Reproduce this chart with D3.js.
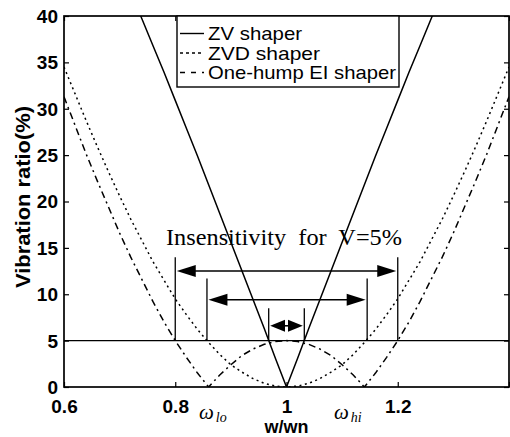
<!DOCTYPE html>
<html>
<head>
<meta charset="utf-8">
<script src="https://cdn.jsdelivr.net/npm/d3@7"></script>
<style>
  html, body { margin: 0; padding: 0; background: #fff; }
  svg { display: block; }
  .tick text { font-family: "Liberation Sans", Arial, sans-serif; font-size: 19px; font-weight: bold; fill: #000; }
</style>
</head>
<body>
<svg id="chart" width="510" height="437"></svg>
<script>
// Normalised frequency w/wn
const freq = [0.60,0.62,0.64,0.66,0.68,0.70,0.72,0.74,0.76,0.78,0.80,0.82,0.84,0.86,0.88,0.90,0.92,0.94,0.96,0.98,1.00,
              1.02,1.04,1.06,1.08,1.10,1.12,1.14,1.16,1.18,1.20,1.22,1.24,1.26,1.28,1.30,1.32,1.34,1.36,1.38,1.40];
// Residual vibration (%) of each shaper
const zvShaper  = [58.8,56.2,53.6,50.9,48.2,45.4,42.6,39.7,36.8,33.9,30.9,27.9,24.9,21.8,18.7,15.6,12.5,9.4,6.3,3.1,0,
                   3.1,6.3,9.4,12.5,15.6,18.7,21.8,24.9,27.9,30.9,33.9,36.8,39.7,42.6,45.4,48.2,50.9,53.6,56.2,58.8];
const zvdShaper = [34.5,31.6,28.7,25.9,23.2,20.6,18.1,15.8,13.5,11.5,9.5,7.8,6.2,4.8,3.5,2.4,1.6,0.9,0.4,0.1,0,
                   0.1,0.4,0.9,1.6,2.4,3.5,4.8,6.2,7.8,9.5,11.5,13.5,15.8,18.1,20.6,23.2,25.9,28.7,31.6,34.5];
const eiShaper  = [31.3,28.2,25.1,22.2,19.4,16.6,14.0,11.6,9.2,7.0,5.0,3.2,1.5,0.0,1.3,2.4,3.4,4.1,4.6,4.9,5.0,
                   4.9,4.6,4.1,3.4,2.4,1.3,0.0,1.5,3.2,5.0,7.0,9.2,11.6,14.0,16.6,19.4,22.2,25.1,28.2,31.3];
const seriesNames = ["ZV shaper", "ZVD shaper", "One-hump EI shaper"];

// Tolerable vibration level and the insensitivity ranges at that level (EI, ZVD, ZV)
const vTol = 5;
const bandLo    = [0.80, 0.857, 0.968];
const bandHi    = [1.20, 1.145, 1.032];
const arrowAt   = [12.5, 9.4, 6.6];
const markerTop = [14.0, 11.7, 8.5];

// Axis ticks
const xTicks = [0.6, 0.8, 1.0, 1.2, 1.4];
const xTickLabels = ["0.6", "0.8", "1", "1.2", ""];
const yTicks = [0, 5, 10, 15, 20, 25, 30, 35, 40];

const svg = d3.select("#chart");
const padL = 64, padR = 509, padT = 16, padB = 387;
const x = d3.scaleLinear().domain([0.6, 1.4]).range([padL, padR]);
const y = d3.scaleLinear().domain([0, 40]).range([padB, padT]);

svg.append("defs").append("clipPath").attr("id", "plotArea")
  .append("rect").attr("x", padL).attr("y", padT).attr("width", padR - padL).attr("height", padB - padT);

// Axes with inward ticks on all four sides
const tickLen = 5;
const gx = svg.append("g").attr("transform", `translate(0,${padB})`)
  .call(d3.axisBottom(x).tickValues(xTicks).tickFormat((d, i) => xTickLabels[i]).tickSizeInner(-tickLen).tickSizeOuter(0));
gx.selectAll("text").attr("dy", null).attr("y", 26);
const gxt = svg.append("g").attr("transform", `translate(0,${padT})`)
  .call(d3.axisTop(x).tickValues(xTicks).tickFormat("").tickSizeInner(-tickLen).tickSizeOuter(0));
const gy = svg.append("g").attr("transform", `translate(${padL},0)`)
  .call(d3.axisLeft(y).tickValues(yTicks).tickFormat(d3.format("d")).tickSizeInner(-tickLen).tickSizeOuter(0));
gy.selectAll("text").attr("x", -6).attr("dy", "0.34em");
const gyr = svg.append("g").attr("transform", `translate(${padR},0)`)
  .call(d3.axisRight(y).tickValues(yTicks).tickFormat("").tickSizeInner(-tickLen).tickSizeOuter(0));
[gx, gxt, gy, gyr].forEach(g => {
  g.select(".domain").remove();
  g.selectAll(".tick line").attr("stroke", "#000").attr("stroke-width", 1.2);
});

svg.append("rect").attr("x", padL).attr("y", padT).attr("width", padR - padL).attr("height", padB - padT)
  .attr("fill", "none").attr("stroke", "#000").attr("stroke-width", 1.7);

// Curves
const plot = svg.append("g").attr("clip-path", "url(#plotArea)");
const styles = [
  { data: zvShaper,  dash: null },
  { data: zvdShaper, dash: "2,3.5" },
  { data: eiShaper,  dash: "7,4,2,4" }
];
const line = d3.line().x(d => x(d[0])).y(d => y(d[1]));
styles.forEach(s => {
  plot.append("path")
    .attr("d", line(freq.map((f, i) => [f, s.data[i]])))
    .attr("fill", "none").attr("stroke", "#000").attr("stroke-width", 1.5)
    .attr("stroke-dasharray", s.dash);
});

// Tolerance level
plot.append("line").attr("x1", x(0.6)).attr("x2", x(1.4)).attr("y1", y(vTol)).attr("y2", y(vTol))
  .attr("stroke", "#000").attr("stroke-width", 1.4);

// Insensitivity markers and double-headed arrows
const headHalf = 6;
function arrowHead(xTip, yPos, dir, len) {
  const xb = xTip - dir * len;
  svg.append("path")
    .attr("d", `M${xTip},${yPos} L${xb},${yPos - headHalf} L${xb},${yPos + headHalf} Z`)
    .attr("fill", "#000");
}
bandLo.forEach((lo, i) => {
  const hi = bandHi[i];
  [lo, hi].forEach(v => {
    svg.append("line").attr("x1", x(v)).attr("x2", x(v)).attr("y1", y(markerTop[i])).attr("y2", y(vTol))
      .attr("stroke", "#000").attr("stroke-width", 1.3);
  });
  const ya = y(arrowAt[i]);
  const x0 = x(lo) + 1.5, x1 = x(hi) - 1.5;
  const len = Math.min(19, (x1 - x0) / 2 - 1.5);
  svg.append("line").attr("x1", x0 + 4).attr("x2", x1 - 4).attr("y1", ya).attr("y2", ya)
    .attr("stroke", "#000").attr("stroke-width", 1.6);
  arrowHead(x0, ya, -1, len);
  arrowHead(x1, ya, 1, len);
});

svg.append("text")
  .attr("x", 166).attr("y", 245)
  .attr("font-family", "'Liberation Serif', 'Times New Roman', serif").attr("font-size", 23)
  .attr("textLength", 236).attr("lengthAdjust", "spacingAndGlyphs")
  .style("white-space", "pre")
  .text("Insensitivity  for  V=5%");

// Legend
const lg = svg.append("g");
lg.append("rect").attr("x", 177).attr("y", padT).attr("width", 222).attr("height", 71)
  .attr("fill", "#fff").attr("stroke", "#000").attr("stroke-width", 1.4);
const legendDash = [null, "3,3", "5,6"];
seriesNames.forEach((name, i) => {
  const yy = 40 + i * 19.5;
  lg.append("line").attr("x1", 180).attr("x2", 204).attr("y1", yy - 6.5).attr("y2", yy - 6.5)
    .attr("stroke", "#000").attr("stroke-width", 1.4).attr("stroke-dasharray", legendDash[i]);
  lg.append("text").attr("x", 208).attr("y", yy)
    .attr("font-family", "'Liberation Sans', Arial, sans-serif").attr("font-size", 19)
    .attr("textLength", [94, 112, 188][i]).attr("lengthAdjust", "spacingAndGlyphs")
    .text(name);
});

// Axis titles
svg.append("text")
  .attr("transform", "translate(30,197) rotate(-90)")
  .attr("text-anchor", "middle")
  .attr("font-family", "'Liberation Sans', Arial, sans-serif").attr("font-size", 20).attr("font-weight", "bold")
  .attr("textLength", 182).attr("lengthAdjust", "spacingAndGlyphs")
  .text("Vibration ratio(%)");
svg.append("text")
  .attr("x", x(1.0)).attr("y", 433).attr("text-anchor", "middle")
  .attr("font-family", "'Liberation Sans', Arial, sans-serif").attr("font-size", 18).attr("font-weight", "bold")
  .text("w/wn");

// Band edge symbols
function omegaLabel(xPos, sub) {
  const t = svg.append("text").attr("x", xPos).attr("y", 419)
    .attr("font-family", "'Liberation Serif', 'Times New Roman', serif").attr("font-style", "italic")
    .attr("font-size", 21);
  t.append("tspan").text("ω");
  t.append("tspan").attr("font-size", 14).attr("dx", 2).attr("dy", 3).text(sub);
}
omegaLabel(199, "lo");
omegaLabel(334, "hi");
</script>
</body>
</html>
